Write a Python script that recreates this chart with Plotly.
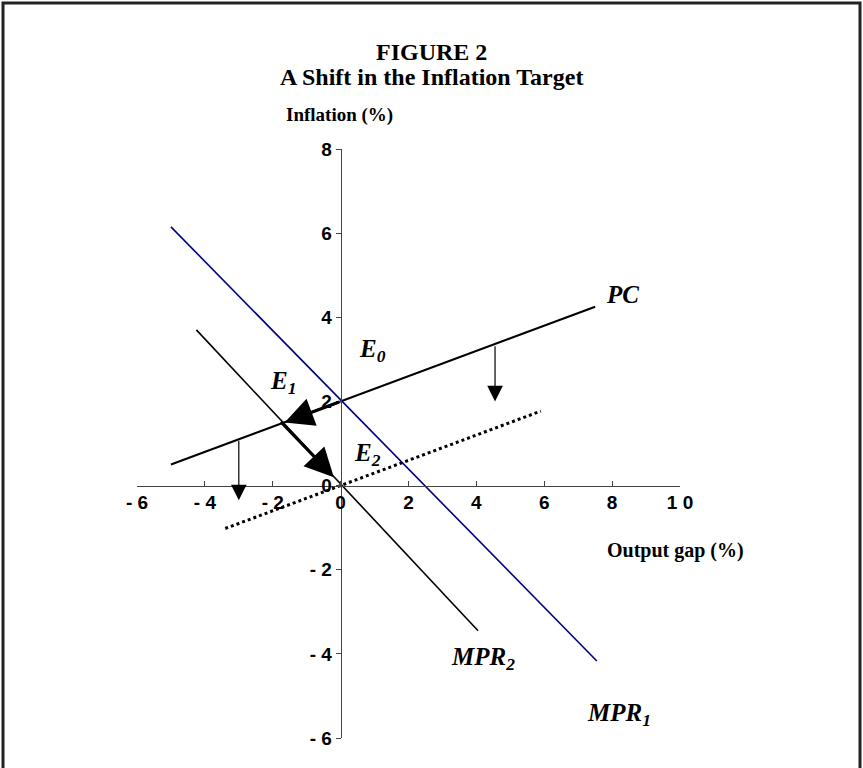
import plotly.graph_objects as go

# ---- data ----
pc_x = [-5.0, 7.5]
pc_y = [0.5, 4.25]
pc2_x = [-3.4, 5.9]
pc2_y = [-1.02, 1.77]
mpr1_x = [-5.0, 7.55]
mpr1_y = [6.15, -4.17]
mpr2_x = [-4.25, 4.05]
mpr2_y = [3.7, -3.45]

x_ticks = [-6, -4, -2, 0, 2, 4, 6, 8, 10]
x_ticktext = ["- 6", "- 4", "- 2", "0", "2", "4", "6", "8", "1 0"]
y_ticks = [-6, -4, -2, 0, 2, 4, 6, 8]
y_ticktext = ["- 6", "- 4", "- 2", "0", "2", "4", "6", "8"]

# shift arrows (thin): x, tail y, head y
shift_x = [-3.0, 4.55]
shift_tail_y = [1.1, 3.35]
shift_head_y = [-0.35, 2.0]

# adjustment path arrows (thick): tail -> head
path_tail_x = [0.0, -1.8]
path_tail_y = [2.0, 1.55]
path_head_x = [-1.65, -0.2]
path_head_y = [1.5, 0.2]

labels = ["<b><i>E<sub>0</sub></i></b>", "<b><i>E<sub>1</sub></i></b>", "<b><i>E<sub>2</sub></i></b>",
          "<b><i>PC</i></b>", "<b><i>MPR<sub>2</sub></i></b>", "<b><i>MPR<sub>1</sub></i></b>"]
label_x = [0.93, -1.7, 0.8, 8.3, 4.2, 8.2]
label_y = [3.2, 2.45, 0.75, 4.55, -4.1, -5.45]

# ---- layout geometry (pixels) ----
W, H = 863, 768
L, R, T, B = 137, 183, 149, 30
PW, PH = W - L - R, H - T - B


def px(x):
    return (x - L) / PW


def py(y):
    return (H - B - y) / PH


fig = go.Figure()
fig.add_trace(go.Scatter(x=pc_x, y=pc_y, mode="lines", line=dict(color="black", width=2), hoverinfo="skip"))
fig.add_trace(go.Scatter(x=pc2_x, y=pc2_y, mode="lines", line=dict(color="black", width=3, dash="dot"), hoverinfo="skip"))
fig.add_trace(go.Scatter(x=mpr1_x, y=mpr1_y, mode="lines", line=dict(color="#000080", width=1.6), hoverinfo="skip"))
fig.add_trace(go.Scatter(x=mpr2_x, y=mpr2_y, mode="lines", line=dict(color="black", width=1.6), hoverinfo="skip"))

anns = []
for x, ty, hy in zip(shift_x, shift_tail_y, shift_head_y):
    anns.append(dict(x=x, y=hy, ax=x, ay=ty, xref="x", yref="y", axref="x", ayref="y",
                     text="", showarrow=True, arrowhead=2, arrowsize=2.6, arrowwidth=1.2,
                     arrowcolor="black", standoff=0))
for tx, ty, hx, hy in zip(path_tail_x, path_tail_y, path_head_x, path_head_y):
    anns.append(dict(x=hx, y=hy, ax=tx, ay=ty, xref="x", yref="y", axref="x", ayref="y",
                     text="", showarrow=True, arrowhead=2, arrowsize=1.8, arrowwidth=3.2,
                     arrowcolor="black", standoff=0))
for t, x, y in zip(labels, label_x, label_y):
    anns.append(dict(x=x, y=y, xref="x", yref="y", text=t, showarrow=False,
                     xanchor="center", yanchor="middle",
                     font=dict(family="Liberation Serif", size=25, color="black")))

serif = dict(family="Liberation Serif", color="black")
paper_texts = [("<b>FIGURE 2</b>", 431, 52, 24),
               ("<b>A Shift in the Inflation Target</b>", 431, 77, 24),
               ("<b>Inflation (%)</b>", 339, 115, 19),
               ("<b>Output gap (%)</b>", 675, 550, 20)]
for t, x, y, s in paper_texts:
    anns.append(dict(x=px(x), y=py(y), xref="paper", yref="paper", text=t, showarrow=False,
                     xanchor="center", yanchor="middle", font=dict(size=s, **serif)))

tickfont = dict(family="Liberation Sans", size=19, color="black")
fig.update_layout(
    width=W, height=H,
    margin=dict(l=L, r=R, t=T, b=B),
    paper_bgcolor="white", plot_bgcolor="white",
    showlegend=False,
    annotations=anns,
    shapes=[dict(type="rect", xref="paper", yref="paper",
                 x0=px(3), x1=px(860), y0=py(3), y1=py(800),
                 line=dict(color="#222", width=3), fillcolor="rgba(0,0,0,0)", layer="below")],
    xaxis=dict(range=[-6, 10], tickvals=x_ticks, ticktext=["<b>%s</b>" % t for t in x_ticktext],
               tickfont=tickfont,
               showgrid=False, zeroline=False, showline=True, linecolor="#444", linewidth=1,
               ticks="inside", ticklen=5, tickcolor="#444", anchor="free", position=6 / 14),
    yaxis=dict(range=[-6, 8], tickvals=y_ticks, ticktext=["<b>%s</b>" % t for t in y_ticktext],
               tickfont=tickfont,
               showgrid=False, zeroline=False, showline=True, linecolor="#444", linewidth=1,
               ticks="outside", ticklen=5, tickcolor="#444", anchor="free", position=6 / 16),
)
fig.write_html("out.html", config={"displayModeBar": False},
               post_script="document.body.style.margin='0px';")
